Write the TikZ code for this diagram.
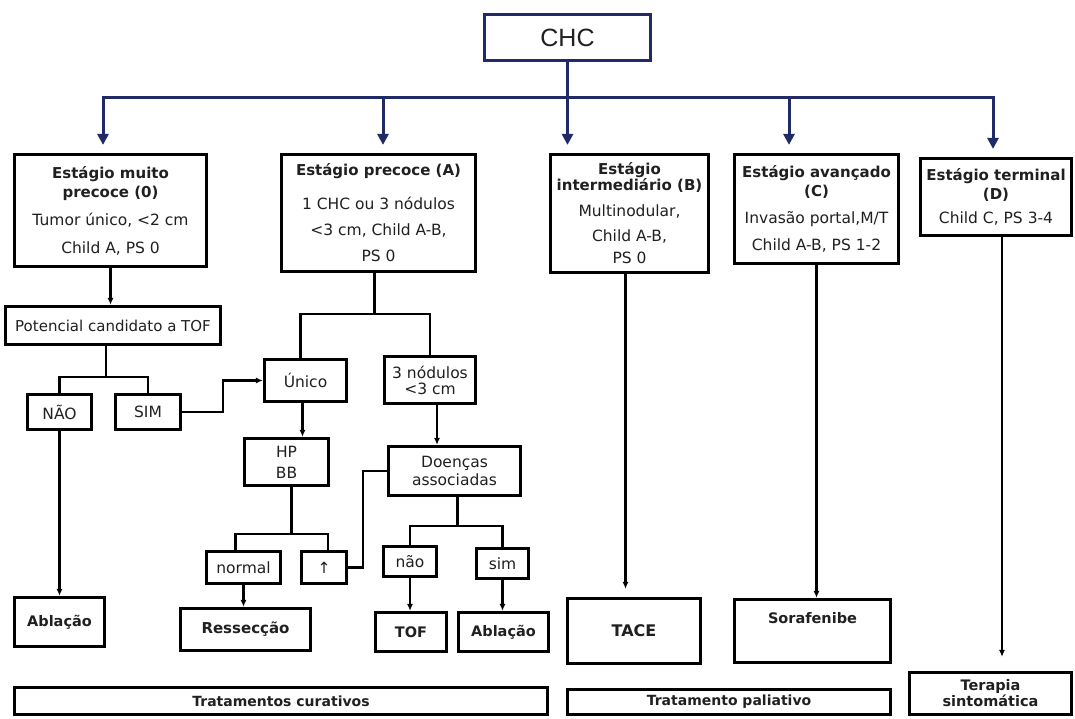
\documentclass[tikz,border=0pt]{standalone}
\usepackage{fontspec}
\setmainfont{DejaVu Sans}
\newfontfamily\chcfont{Liberation Sans}
\usetikzlibrary{arrows.meta}
\definecolor{navy}{HTML}{1F2A66}
\definecolor{ink}{HTML}{202020}
\newcommand{\ttl}{\fontsize{15}{19}\selectfont\bfseries}
\begin{document}
\begin{tikzpicture}[x=1pt,y=-1pt,
  box/.style={draw=black, line width=3.2pt, align=center, inner sep=1pt, text=ink,
    font=\fontsize{15.5}{19}\selectfont},
  bbox/.style={box, font=\fontsize{14.5}{19}\selectfont\bfseries},
  conn/.style={line width=2.3pt, draw=black},
  arr/.style={conn, -{Latex[length=7pt,width=6pt]}},
  bline/.style={draw=navy, line width=3pt},
  barr/.style={bline, -{Triangle[length=11pt,width=11pt]}, shorten >=8pt}]
\useasboundingbox[fill=white] (0,0) rectangle (1075,718);

% top
\node[draw=navy, line width=3pt, minimum width=166pt, minimum height=46pt, text=ink,
  font=\fontsize{25}{28}\chcfont] (CHC) at (567.5,37.5) {CHC};

% stages
\node[box, minimum width=192pt, minimum height=112pt] (B0) at (110.5,210.5)
  {\ttl Estágio muito\\\ttl precoce (0)\\[9pt]Tumor único, <2 cm\\[9pt]Child A, PS 0};
\node[box, minimum width=194pt, minimum height=117pt] (BA) at (378.5,213)
  {\ttl Estágio precoce (A)\\[15pt]1 CHC ou 3 nódulos\\[7pt]<3 cm, Child A-B,\\[7pt]PS 0};
\node[box, minimum width=158pt, minimum height=118pt] (BB) at (629.5,213.5)
  {\ttl Estágio\\[-3pt]\ttl intermediário (B)\\[7pt]Multinodular,\\[6pt]Child A-B,\\[3pt]PS 0};
\node[box, minimum width=164pt, minimum height=109pt] (BC) at (816.5,209)
  {\ttl Estágio avançado\\\ttl (C)\\[8pt]Invasão portal,M/T\\[8pt]Child A-B, PS 1-2};
\node[box, minimum width=151pt, minimum height=77pt] (BD) at (996,197)
  {\ttl Estágio terminal\\\ttl (D)\\[5pt]Child C, PS 3-4};

% left branch
\node[box, minimum width=215pt, minimum height=38pt, font=\fontsize{15}{19}\selectfont] (Pot) at (113,325.5) {Potencial candidato a TOF};
\node[box, minimum width=64pt, minimum height=35pt] (NAO) at (59.5,412) {NÃO};
\node[box, minimum width=65pt, minimum height=35pt] (SIM) at (148,412) {SIM};
\node[box, minimum width=82pt, minimum height=42pt] (Unico) at (305.5,380.5) {Único};
\node[box, minimum width=91pt, minimum height=47pt] (Tres) at (430,380) {3 nódulos\\[-3pt]<3 cm};
\node[box, minimum width=84pt, minimum height=47pt] (HPBB) at (286.5,462) {HP\\[2pt]BB};
\node[box, minimum width=132pt, minimum height=49pt] (Doencas) at (454.5,471) {Doenças\\[-1pt]associadas};
\node[box, minimum width=74pt, minimum height=32pt] (normal) at (243.5,567.5) {normal};
\node[box, minimum width=45pt, minimum height=32pt] (up) at (324,567.5) {↑};
\node[box, minimum width=53pt, minimum height=30pt] (nao) at (410,561.5) {não};
\node[box, minimum width=52pt, minimum height=30pt] (sim) at (502.5,563.5) {sim};

% results
\node[bbox, minimum width=90pt, minimum height=49pt] (Abl1) at (59.5,622) {\mbox{}\\[-8pt]Ablação};
\node[bbox, minimum width=130pt, minimum height=42pt, font=\fontsize{15}{19}\selectfont\bfseries] (Ress) at (245.5,629.5) {Ressecção};
\node[bbox, minimum width=71pt, minimum height=39pt] (TOF) at (411,632) {TOF};
\node[bbox, minimum width=90pt, minimum height=39pt] (Abl2) at (503.5,632) {Ablação};
\node[bbox, minimum width=133pt, minimum height=65pt, font=\fontsize{16}{19}\selectfont\bfseries] (TACE) at (634,631) {TACE};
\node[bbox, minimum width=156pt, minimum height=63pt] (Sora) at (812.5,631) {Sorafenibe\\[8pt]\mbox{}};
\node[bbox, minimum width=162pt, minimum height=42pt] (TerSint) at (990.5,693.5) {Terapia\\[-3pt]\bfseries sintomática};
\node[bbox, minimum width=533pt, minimum height=27pt, font=\fontsize{14}{19}\selectfont\bfseries] (Cur) at (281,701) {Tratamentos curativos};
\node[bbox, minimum width=323pt, minimum height=25pt, font=\fontsize{14}{19}\selectfont\bfseries] (Pal) at (729,702) {Tratamento paliativo};

% blue tree
\coordinate (bus) at (567.5,97);
\coordinate (busL) at (103,97);
\coordinate (busA) at (383,97);
\coordinate (busC) at (789,97);
\coordinate (busR) at (993,97);
\draw[bline] (CHC.south) -- (bus);
\draw[bline, line cap=rect] (busL) -- (busR);
\draw[barr] (busL) -- (busL |- B0.north);
\draw[barr] (busA) -- (busA |- BA.north);
\draw[barr] (bus) -- (bus |- BB.north);
\draw[barr] (busC) -- (busC |- BC.north);
\draw[barr] (busR) -- (busR |- BD.north);

% black connectors
\draw[arr] (B0.south) -- (B0.south |- Pot.north);
\draw[conn] ([xshift=-7pt]Pot.south) -- ++(0,31) coordinate (pj);
\draw[conn] (NAO.north) |- (pj) -| (SIM.north);
\draw[arr] (SIM.east) -- ++(41,0) |- (Unico.west);
\draw[arr] (NAO.south) -- (Abl1.north);

\draw[conn] ([xshift=-4pt]BA.south) -- ++(0,41) coordinate (aj);
\draw[conn] ([xshift=-5pt]Unico.north) |- (aj) -| (Tres.north);
\draw[arr] ([xshift=-3pt]Unico.south) -- ([xshift=-3pt]Unico.south |- HPBB.north);
\draw[arr] ([xshift=7pt]Tres.south) -- ([xshift=7pt]Tres.south |- Doencas.north);

\draw[conn] ([xshift=5pt]HPBB.south) -- ++(0,47) coordinate (hj);
\draw[conn] ([xshift=-8pt]normal.north) |- (hj) -| ([xshift=4pt]up.north);
\draw[arr] (normal.south) -- (normal.south |- Ress.north);
\draw[conn] (up.east) -- ++(15,0) |- (Doencas.west);

\draw[conn] ([xshift=3pt]Doencas.south) -- ++(0,29) coordinate (dj);
\draw[conn] (nao.north) |- (dj) -| (sim.north);
\draw[arr] (nao.south) -- (nao.south |- TOF.north);
\draw[arr] (sim.south) -- (sim.south |- Abl2.north);

\draw[arr, shorten >=8pt] ([xshift=-4pt]BB.south) -- ([xshift=-4pt]BB.south |- TACE.north);
\draw[arr] (BC.south) -- (BC.south |- Sora.north);
\draw[arr, shorten >=14pt] ([xshift=6pt]BD.south) -- ([xshift=6pt]BD.south |- TerSint.north);
\end{tikzpicture}
\end{document}
